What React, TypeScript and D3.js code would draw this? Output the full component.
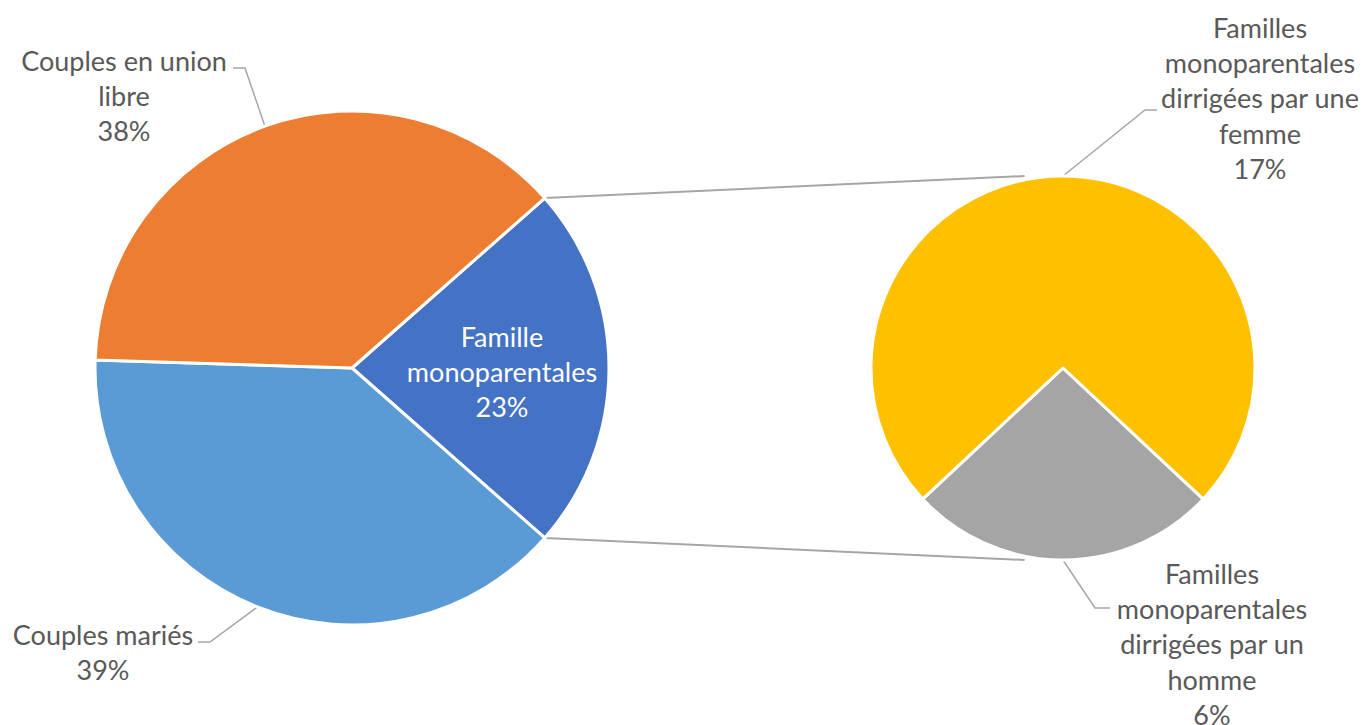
import React, { useEffect } from "react";
import * as d3 from "d3";

const mainCategories = ["Famille monoparentales", "Couples mariés", "Couples en union libre"];
const mainValues = [23, 39, 38];
const mainColors = ["#4472C4", "#5B9BD5", "#ED7D31"];

const subCategories = ["Familles monoparentales dirrigées par un homme", "Familles monoparentales dirrigées par une femme"];
const subValues = [6, 17];
const subColors = ["#A5A5A5", "#FFC000"];

const W = 1370;
const H = 725;
const FONT = "Lato, 'Open Sans', sans-serif";
const FS = 27;
const LH = 35.4;
const TEXT = "#595959";
const LEADER = "#A6A6A6";

type Label = { lines: string[]; x: number; y: number; color: string; leader?: [number, number][] };

export default function App() {
  useEffect(() => {
    document.body.style.margin = "0";
  }, []);

  const c1 = { x: 352, y: 368, r: 257 };
  const c2 = { x: 1063, y: 368, r: 192 };

  const mainFrac = mainValues[0] / d3.sum(mainValues);
  const s1 = Math.PI / 2 - mainFrac * Math.PI;
  const pie1 = d3.pie<number>().sort(null).startAngle(s1).endAngle(s1 + 2 * Math.PI)(mainValues);
  const arc1 = d3.arc<d3.PieArcDatum<number>>().innerRadius(0).outerRadius(c1.r);

  const subFrac = subValues[0] / d3.sum(subValues);
  const s2 = Math.PI - subFrac * Math.PI;
  const pie2 = d3.pie<number>().sort(null).startAngle(s2).endAngle(s2 + 2 * Math.PI)(subValues);
  const arc2 = d3.arc<d3.PieArcDatum<number>>().innerRadius(0).outerRadius(c2.r);

  const pt = (c: { x: number; y: number }, r: number, a: number): [number, number] => [
    c.x + r * Math.sin(a),
    c.y - r * Math.cos(a),
  ];
  const mid = (d: d3.PieArcDatum<number>) => (d.startAngle + d.endAngle) / 2;

  const blue = pie1[0];
  const topStart = pt(c1, c1.r, blue.startAngle);
  const botStart = pt(c1, c1.r, blue.endAngle);
  const topEnd: [number, number] = [c2.x - 0.2 * c2.r, c2.y - c2.r];
  const botEnd: [number, number] = [c2.x - 0.2 * c2.r, c2.y + c2.r];

  const labels: Label[] = [
    {
      lines: ["Famille", "monoparentales", `${mainValues[0]}%`],
      x: 502,
      y: 336,
      color: "#FFFFFF",
    },
    {
      lines: ["Couples mariés", `${mainValues[1]}%`],
      x: 103,
      y: 634,
      color: TEXT,
      leader: [[198, 642], [210, 642], pt(c1, c1.r, mid(pie1[1]))],
    },
    {
      lines: ["Couples en union", "libre", `${mainValues[2]}%`],
      x: 124,
      y: 60,
      color: TEXT,
      leader: [[233, 68], [245, 68], pt(c1, c1.r, mid(pie1[2]))],
    },
    {
      lines: ["Familles", "monoparentales", "dirrigées par un", "homme", `${subValues[0]}%`],
      x: 1212,
      y: 573,
      color: TEXT,
      leader: [[1110, 608], [1095, 608], pt(c2, c2.r, mid(pie2[0]))],
    },
    {
      lines: ["Familles", "monoparentales", "dirrigées par une", "femme", `${subValues[1]}%`],
      x: 1260,
      y: 27,
      color: TEXT,
      leader: [[1157, 110], [1145, 110], pt(c2, c2.r, mid(pie2[1]))],
    },
  ];

  const line = d3.line();

  return (
    <svg width={W} height={H} style={{ position: "absolute", left: 0, top: 0, background: "#fff" }}>
      <g>
        {labels
          .filter((l) => l.leader)
          .map((l, i) => (
            <path key={"ld" + i} d={line(l.leader!) || ""} fill="none" stroke={LEADER} strokeWidth={1.5} />
          ))}
        <path d={line([topStart, topEnd]) || ""} stroke={LEADER} strokeWidth={2} fill="none" />
        <path d={line([botStart, botEnd]) || ""} stroke={LEADER} strokeWidth={2} fill="none" />
      </g>
      <g transform={`translate(${c1.x},${c1.y})`}>
        {pie1.map((d, i) => (
          <path key={i} d={arc1(d) || ""} fill={mainColors[i]} stroke="#fff" strokeWidth={3} strokeLinejoin="round">
            <title>{mainCategories[i]}</title>
          </path>
        ))}
      </g>
      <g transform={`translate(${c2.x},${c2.y})`}>
        {pie2.map((d, i) => (
          <path key={i} d={arc2(d) || ""} fill={subColors[i]} stroke="#fff" strokeWidth={3} strokeLinejoin="round">
            <title>{subCategories[i]}</title>
          </path>
        ))}
      </g>
      {labels.map((l, i) => (
        <text key={"t" + i} fontFamily={FONT} fontSize={FS} fill={l.color} textAnchor="middle">
          {l.lines.map((s, j) => (
            <tspan key={j} x={l.x} y={l.y + j * LH} dominantBaseline="central">
              {s}
            </tspan>
          ))}
        </text>
      ))}
    </svg>
  );
}
